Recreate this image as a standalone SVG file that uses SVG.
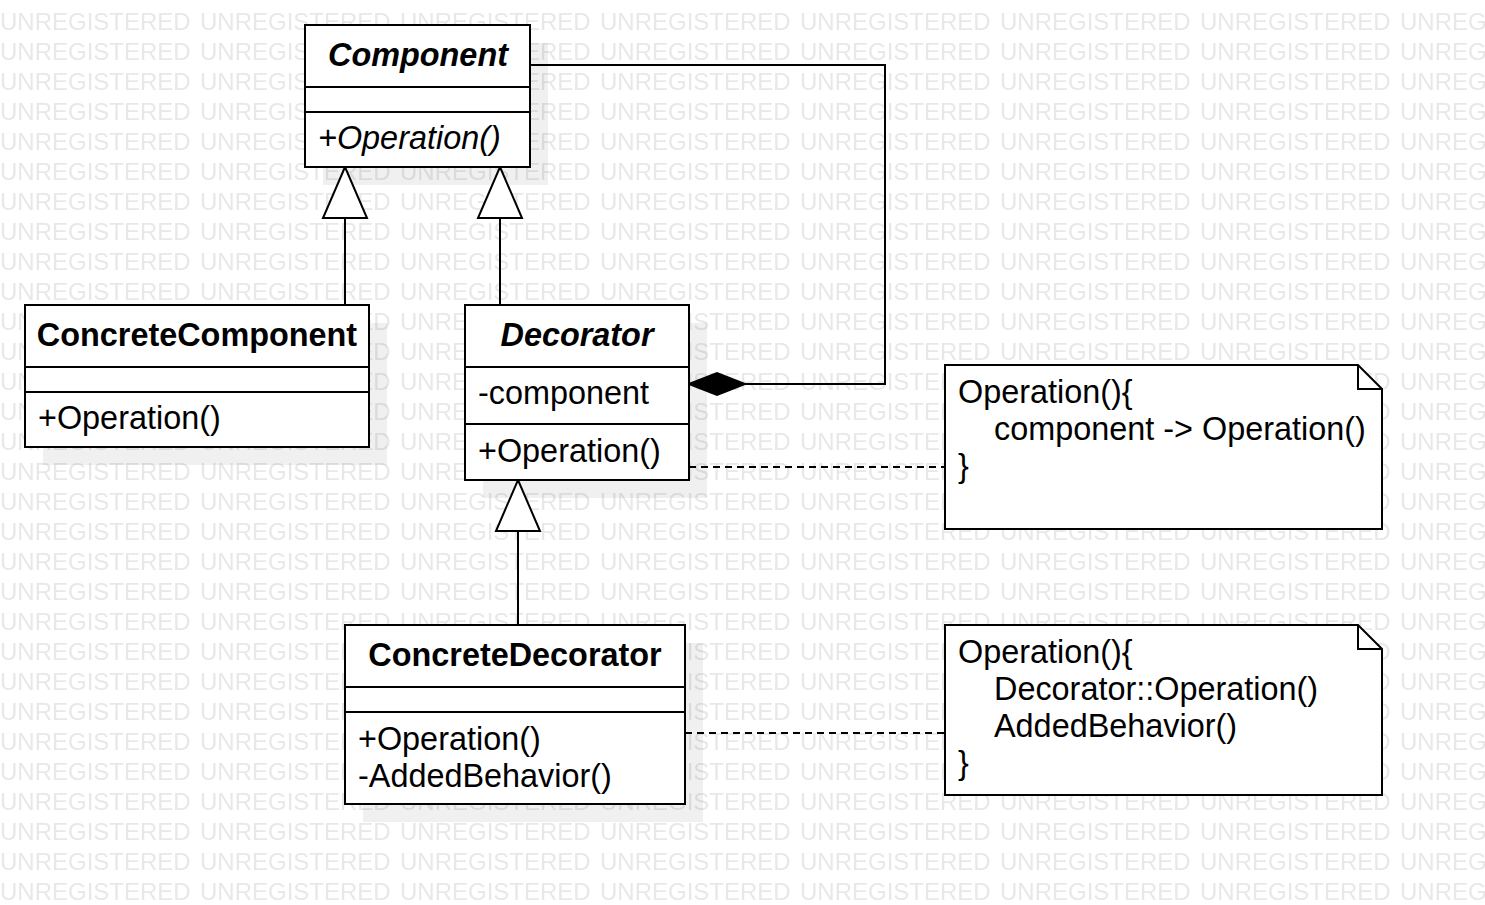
<svg xmlns="http://www.w3.org/2000/svg" width="1485" height="905" viewBox="0 0 1485 905">
<style>
.box{fill:#fff;stroke:#000;stroke-width:2}
.sh{fill:#000;fill-opacity:0.06}
.ln{fill:none;stroke:#000;stroke-width:2}
.dash{fill:none;stroke:#000;stroke-width:2;stroke-dasharray:7 5}
.t{font-family:"Liberation Sans",Arial,sans-serif;font-size:32.4px;fill:#000}
.b{font-weight:bold}
.i{font-style:italic}
.c{text-anchor:middle}
.wm{font-family:"Liberation Sans",Arial,sans-serif;font-size:24px;fill:#e8e8e8}
</style>
<defs>
<pattern id="wmp" patternUnits="userSpaceOnUse" x="0" y="0" width="200" height="30">
<text class="wm" x="0" y="29.5">UNREGISTERED</text>
</pattern>
</defs>
<rect width="1485" height="905" fill="#fff"/>
<rect width="1485" height="905" fill="url(#wmp)"/>

<g id="shadows">
<rect class="sh" x="323" y="43" width="225" height="142"/>
<rect class="sh" x="43" y="323" width="344" height="142"/>
<rect class="sh" x="483" y="323" width="224" height="175"/>
<rect class="sh" x="363" y="643" width="340" height="179"/>
</g>

<g id="connectors">
<line class="ln" x1="345" y1="305" x2="345" y2="218"/>
<polygon class="box" points="345,167 367,218 323,218"/>
<line class="ln" x1="500" y1="305" x2="500" y2="218"/>
<polygon class="box" points="500,167 522,218 478,218"/>
<line class="ln" x1="518" y1="625" x2="518" y2="531"/>
<polygon class="box" points="518,480 540,531 496,531"/>
<polyline class="ln" points="530,65 885,65 885,384 745,384"/>
<polygon points="689,384 717,373 745,384 717,395" fill="#000" stroke="#000" stroke-width="2"/>
<line class="dash" x1="689" y1="467" x2="945" y2="467"/>
<line class="dash" x1="685" y1="733" x2="945" y2="733"/>
</g>

<g id="Component">
<rect class="box" x="305" y="25" width="225" height="142"/>
<line class="ln" x1="305" y1="87" x2="530" y2="87"/>
<line class="ln" x1="305" y1="112" x2="530" y2="112"/>
<text class="t b i c" x="418" y="66">Component</text>
<text class="t i" x="318" y="149">+Operation()</text>
</g>

<g id="ConcreteComponent">
<rect class="box" x="25" y="305" width="344" height="142"/>
<line class="ln" x1="25" y1="367" x2="369" y2="367"/>
<line class="ln" x1="25" y1="392" x2="369" y2="392"/>
<text class="t b c" x="197" y="346">ConcreteComponent</text>
<text class="t" x="38" y="429">+Operation()</text>
</g>

<g id="Decorator">
<rect class="box" x="465" y="305" width="224" height="175"/>
<line class="ln" x1="465" y1="367" x2="689" y2="367"/>
<line class="ln" x1="465" y1="424" x2="689" y2="424"/>
<text class="t b i c" x="577" y="346">Decorator</text>
<text class="t" x="478" y="404">-component</text>
<text class="t" x="478" y="462">+Operation()</text>
</g>

<g id="ConcreteDecorator">
<rect class="box" x="345" y="625" width="340" height="179"/>
<line class="ln" x1="345" y1="687" x2="685" y2="687"/>
<line class="ln" x1="345" y1="712" x2="685" y2="712"/>
<text class="t b c" x="515" y="666">ConcreteDecorator</text>
<text class="t" x="358" y="750">+Operation()</text>
<text class="t" x="358" y="787">-AddedBehavior()</text>
</g>

<g id="Note1">
<path class="box" d="M945,365 H1358 L1382,389 V529 H945 Z"/>
<path class="ln" d="M1358,365 V389 H1382"/>
<text class="t" x="958" y="403">Operation(){</text>
<text class="t" x="994" y="440">component -&gt; Operation()</text>
<text class="t" x="958" y="477">}</text>
</g>

<g id="Note2">
<path class="box" d="M945,625 H1358 L1382,649 V795 H945 Z"/>
<path class="ln" d="M1358,625 V649 H1382"/>
<text class="t" x="958" y="663">Operation(){</text>
<text class="t" x="994" y="700">Decorator::Operation()</text>
<text class="t" x="994" y="737">AddedBehavior()</text>
<text class="t" x="958" y="774">}</text>
</g>
</svg>
